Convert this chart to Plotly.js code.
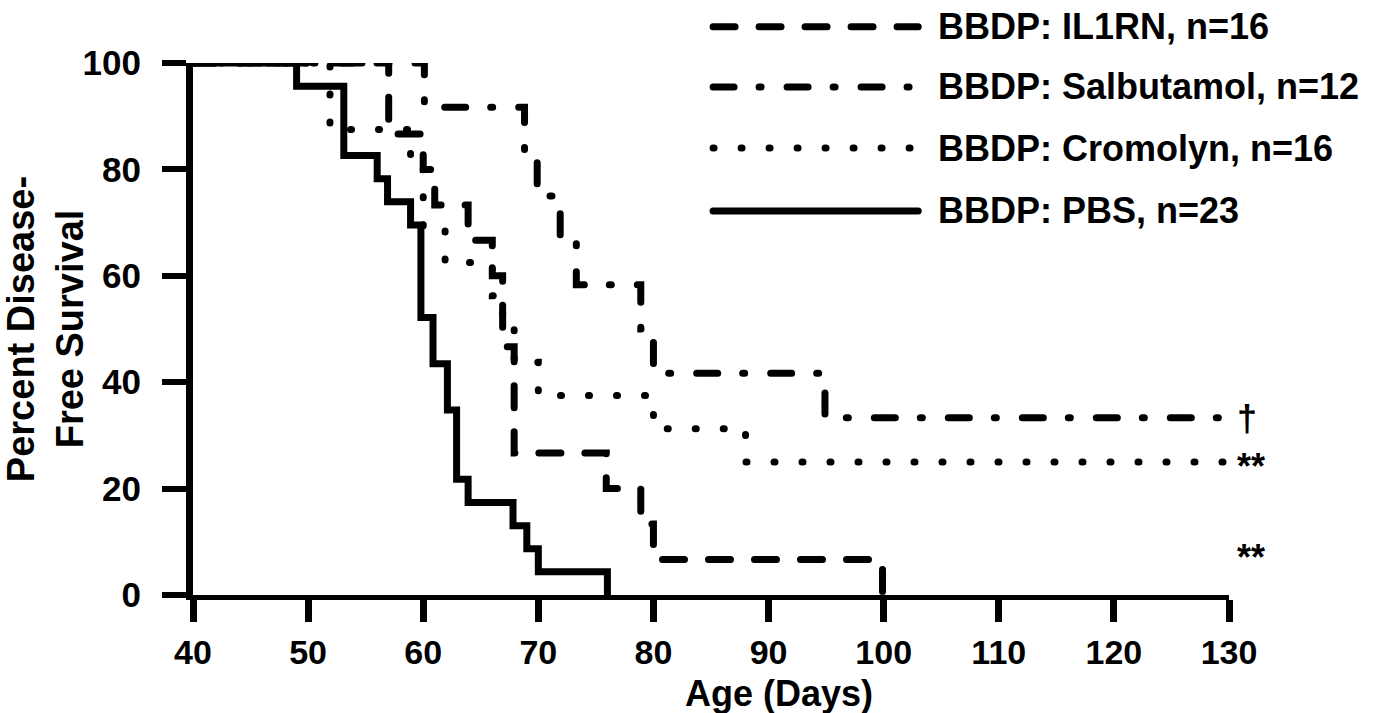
<!DOCTYPE html>
<html>
<head>
<meta charset="utf-8">
<script src="https://cdn.plot.ly/plotly-3.0.1.min.js"></script>
<style>
  html, body { margin: 0; padding: 0; background: #fff; }
  #chart { width: 1374px; height: 713px; }
</style>
</head>
<body>
<div id="chart"></div>
<script>
// ---- Data (Kaplan-Meier step curves) ----
const il1rnDays = [40, 57.0, 60.0, 61.0, 63.9, 66.0, 66.9, 67.9, 75.9, 78.9, 80.0, 99.9];
const il1rnSurv = [100, 86.67, 80, 73.33, 66.67, 60, 46.67, 26.67, 20, 13.33, 6.67, 0];

const salbDays = [40, 60.1, 68.8, 69.9, 71.9, 73.3, 78.9, 80.0, 94.9, 130];
const salbSurv = [100, 91.67, 83.33, 75, 66.67, 58.33, 50, 41.67, 33.33, 33.33];

const cromDays = [40, 51.9, 58.9, 60.0, 61.9, 66.0, 66.9, 67.9, 70.0, 80.0, 88.0, 130];
const cromSurv = [100, 87.5, 81.25, 68.75, 62.5, 56.25, 50, 43.75, 37.5, 31.25, 25, 25];

const pbsDays = [40, 49.0, 53.1, 56.0, 56.9, 58.9, 59.8, 60.85, 62.1, 62.9, 63.9, 67.8, 69.0, 70.0, 76.0];
const pbsSurv = [100, 95.65, 82.61, 78.26, 73.91, 69.57, 52.17, 43.48, 34.78, 21.74, 17.39, 13.04, 8.70, 4.35, 0];

const seriesNames = ["BBDP: IL1RN, n=16", "BBDP: Salbutamol, n=12", "BBDP: Cromolyn, n=16", "BBDP: PBS, n=23"];
const xTicks = [40, 50, 60, 70, 80, 90, 100, 110, 120, 130];
const yTicks = [0, 20, 40, 60, 80, 100];
const sigMarks = ["†", "**", "**"];
const sigLevels = [33.33, 25, 6.67];
const xTitle = "Age (Days)";
const yTitle = "Percent Disease-<br>Free Survival";

// ---- Styles ----
const FONT = 'Arial, "Liberation Sans", sans-serif';
const LW = 7;
const dashes = ["22px,24px", "21px,25px,2px,26px", "1px,27px", "solid"];
const dataX = [il1rnDays, salbDays, cromDays, pbsDays];
const dataY = [il1rnSurv, salbSurv, cromSurv, pbsSurv];

const traces = seriesNames.map((n, i) => ({
  type: 'scatter', mode: 'lines', name: n,
  x: dataX[i], y: dataY[i],
  line: { shape: 'hv', color: 'black', width: LW, dash: dashes[i] },
  cliponaxis: false, showlegend: false, hoverinfo: 'skip'
}));

// custom legend (long line samples like the reference)
const legRowsY = [1.068, 0.955, 0.840, 0.722];
const shapes = [];
const annotations = [];
seriesNames.forEach((n, i) => {
  shapes.push({
    type: 'line', xref: 'paper', yref: 'paper',
    x0: 0.502, x1: 0.700, y0: legRowsY[i], y1: legRowsY[i],
    line: { color: 'black', width: LW, dash: dashes[i] }
  });
  annotations.push({
    xref: 'paper', yref: 'paper', x: 0.717, y: legRowsY[i],
    xanchor: 'left', yanchor: 'middle', showarrow: false,
    text: n, font: { family: FONT, size: 36, color: 'black', weight: 'bold' }
  });
});
// significance marks
const sigShift = [-1, -4, 2];
sigMarks.forEach((m, i) => {
  annotations.push({
    xref: 'x', yref: 'y', x: 130, y: sigLevels[i],
    xanchor: 'left', yanchor: 'middle', xshift: 6, yshift: sigShift[i],
    showarrow: false, text: m,
    font: { family: FONT, size: 36, color: 'black', weight: 'bold' }
  });
});
// x axis title (offset to the right as in the reference)
annotations.push({
  xref: 'paper', yref: 'paper', x: 0.566, y: -0.186,
  xanchor: 'center', yanchor: 'middle', showarrow: false,
  text: xTitle, font: { family: FONT, size: 36, color: 'black', weight: 'bold' }
});

const layout = {
  width: 1374, height: 713,
  margin: { l: 193, r: 145, t: 63, b: 118 },
  paper_bgcolor: 'white', plot_bgcolor: 'white',
  font: { family: FONT, color: 'black', size: 35, weight: 'bold' },
  showlegend: false,
  xaxis: {
    range: [40, 130], tickvals: xTicks, ticktext: xTicks.map(String),
    showline: true, linewidth: 5, linecolor: 'black', mirror: false,
    ticks: 'outside', ticklen: 22, tickwidth: 7, tickcolor: 'black',
    ticklabelstandoff: 1,
    showgrid: false, zeroline: false, fixedrange: true,
    tickfont: { family: FONT, size: 34, color: 'black', weight: 'bold' }
  },
  yaxis: {
    range: [0, 100], tickvals: yTicks, ticktext: yTicks.map(String),
    showline: true, linewidth: 7, linecolor: 'black',
    ticks: 'outside', ticklen: 24, tickwidth: 6, tickcolor: 'black',
    ticklabelstandoff: 14,
    showgrid: false, zeroline: false, fixedrange: true,
    tickfont: { family: FONT, size: 35, color: 'black', weight: 'bold' },
    title: { text: yTitle, standoff: 4, font: { family: FONT, size: 38, color: 'black', weight: 'bold' } }
  },
  shapes: shapes,
  annotations: annotations
};

Plotly.newPlot('chart', traces, layout, { displayModeBar: false, staticPlot: true }).then(() => {
  document.querySelectorAll('.scatterlayer path.js-line, .shapelayer path').forEach(p => {
    p.style.strokeLinecap = 'round';
  });
});
</script>
</body>
</html>
